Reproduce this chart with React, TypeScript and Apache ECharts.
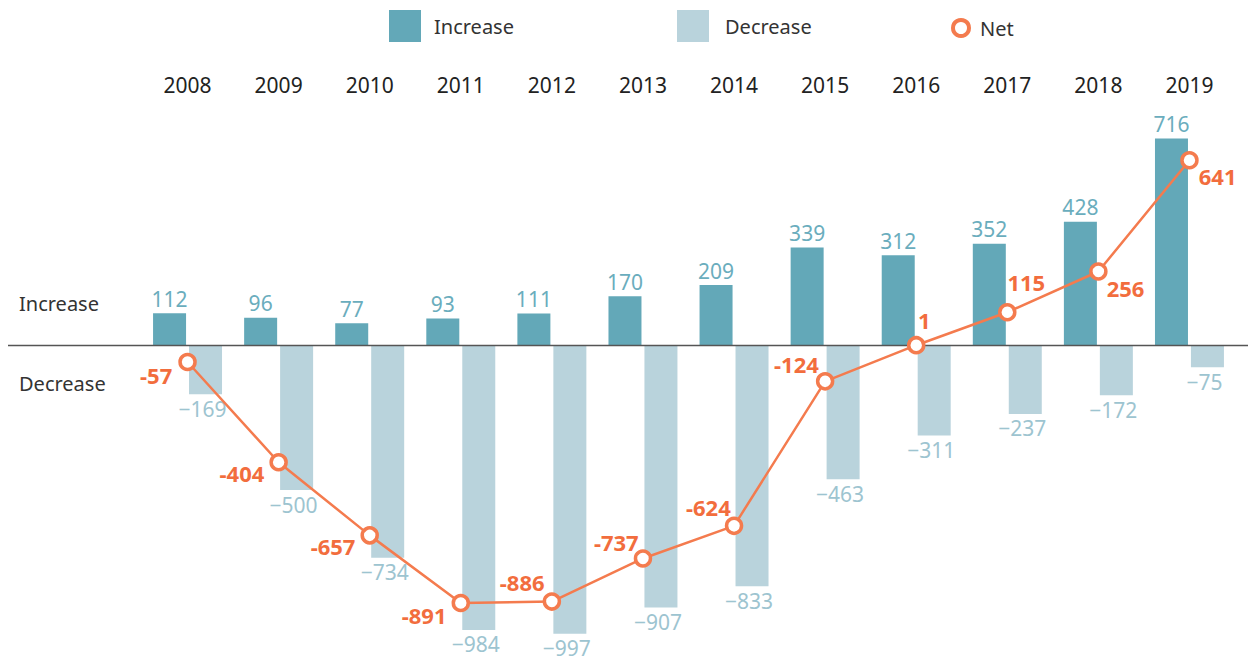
import React, { useEffect, useRef } from "react";
import * as echarts from "echarts";

const years = ["2008", "2009", "2010", "2011", "2012", "2013", "2014", "2015", "2016", "2017", "2018", "2019"];
const increase = [112, 96, 77, 93, 111, 170, 209, 339, 312, 352, 428, 716];
const decrease = [-169, -500, -734, -984, -997, -907, -833, -463, -311, -237, -172, -75];
const net = [-57, -404, -657, -891, -886, -737, -624, -124, 1, 115, 256, 641];

// label placement for the net line (style only)
const netLabelPlace: [string, number, number][] = [
  ["left", -1, 13],
  ["left", 0, 11],
  ["left", 0, 11],
  ["left", 0, 12],
  ["left", 7, -20],
  ["left", 10, -16],
  ["left", 11, -19],
  ["left", 8, -17],
  ["top", 8, 0],
  ["top", 19, -5],
  ["right", -6, 16],
  ["right", -5, 16],
];

const FONT = "Noto Sans";
const C_INC = "#63a8b8";
const C_DEC = "#b9d3dc";
const C_NET = "#f47b4e";

export default function App() {
  const ref = useRef<HTMLDivElement>(null);
  useEffect(() => {
    if (!ref.current) return;
    const chart = echarts.init(ref.current, undefined, { renderer: "svg" });
    const option: any = {
      animation: false,
      backgroundColor: "#fff",
      textStyle: { fontFamily: FONT },
      legend: [
        {
          left: 389, top: 10, padding: 0, itemWidth: 32, itemHeight: 32,
          data: [{ name: "Increase", icon: "rect" }],
          textStyle: { fontFamily: FONT, fontSize: 20, color: "#333", padding: [4, 0, 0, 8] },
          selectedMode: false,
        },
        {
          left: 677, top: 10, padding: 0, itemWidth: 32, itemHeight: 32,
          data: [{ name: "Decrease", icon: "rect" }],
          textStyle: { fontFamily: FONT, fontSize: 20, color: "#333", padding: [4, 0, 0, 11] },
          selectedMode: false,
        },
        {
          left: 951, top: 18, padding: 0, itemWidth: 16, itemHeight: 16,
          data: [{ name: "Net", icon: "circle", itemStyle: { color: "#fff", borderColor: C_NET, borderWidth: 4 } }],
          textStyle: { fontFamily: FONT, fontSize: 20, color: "#333", padding: [2, 0, 0, 6] },
          selectedMode: false,
        },
      ],
      grid: { left: 142, right: 13, top: 114.3, bottom: 26.5, containLabel: false },
      xAxis: {
        type: "category",
        position: "top",
        data: years,
        axisLine: { show: false },
        axisTick: { show: false },
        axisLabel: { fontFamily: FONT, fontSize: 21, color: "#222", margin: 19 },
        splitLine: { show: false },
      },
      yAxis: {
        type: "value",
        min: -1000,
        max: 800,
        show: false,
        splitLine: { show: false },
      },
      series: [
        {
          name: "Increase",
          type: "bar",
          data: increase,
          barWidth: 33,
          barGap: "9%",
          itemStyle: { color: C_INC },
          label: {
            show: true, position: "top", distance: 4,
            fontFamily: FONT, fontSize: 21, color: "#6aadbd",
          },
        },
        {
          name: "Decrease",
          type: "bar",
          data: decrease,
          barWidth: 33,
          barGap: "9%",
          itemStyle: { color: C_DEC },
          label: {
            show: true, position: "bottom", distance: 4, offset: [-3, 0],
            fontFamily: FONT, fontSize: 21, lineHeight: 21, color: "#9dc4d0",
            formatter: (p: any) => "\u2212" + Math.abs(p.value),
          },
        },
        {
          name: "Net",
          type: "line",
          z: 5,
          data: net.map((v, i) => ({
            value: v,
            label: {
              position: netLabelPlace[i][0],
              offset: [netLabelPlace[i][1], netLabelPlace[i][2]],
            },
          })),
          symbol: "circle",
          symbolSize: 15,
          lineStyle: { color: C_NET, width: 2.5 },
          itemStyle: { color: "#fff", borderColor: C_NET, borderWidth: 3.5 },
          label: {
            show: true, distance: 5,
            fontFamily: FONT, fontSize: 22, fontWeight: "bold", color: "#f26d3d",
          },
        },
      ],
    };
    chart.setOption(option);
    const y0 = chart.convertToPixel({ yAxisIndex: 0 }, 0) as number;
    chart.setOption({
      graphic: [
        { type: "line", shape: { x1: 8, y1: y0, x2: 1248, y2: y0 }, style: { stroke: "#555", lineWidth: 1.5 }, z: 4 },
        { type: "text", left: 19, top: 293, style: { text: "Increase", fontFamily: FONT, fontSize: 20, fill: "#333" } },
        { type: "text", left: 19, top: 373, style: { text: "Decrease", fontFamily: FONT, fontSize: 20, fill: "#333" } },
      ],
    });
    return () => chart.dispose();
  }, []);
  return <div ref={ref} style={{ position: "fixed", left: 0, top: 0, width: 1248, height: 661 }} />;
}
